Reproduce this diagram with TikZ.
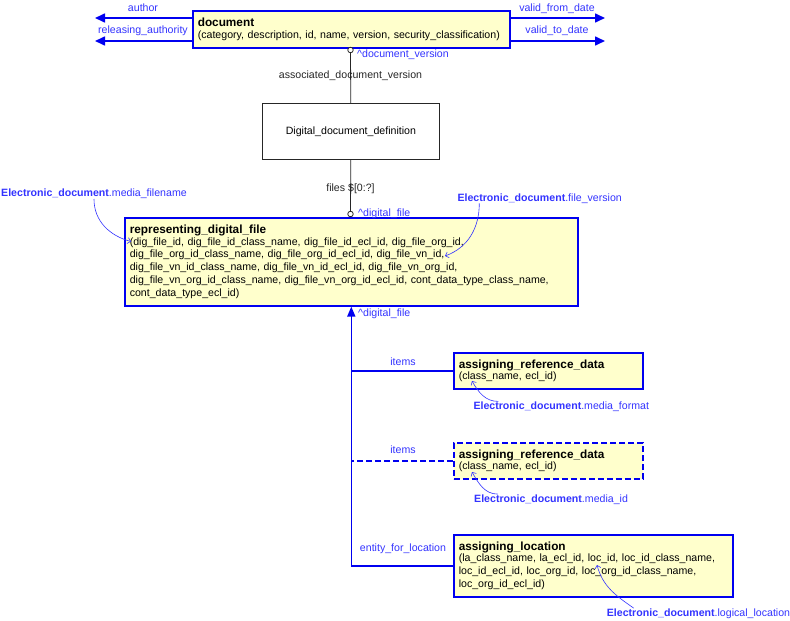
\documentclass[tikz,border=0pt]{standalone}
\usepackage{fontspec}
\setmainfont{Liberation Sans}
\usetikzlibrary{arrows.meta,positioning}
\definecolor{relblue}{RGB}{0,0,240}
\definecolor{lblblue}{RGB}{51,51,255}
\definecolor{entfill}{RGB}{255,255,204}
\newcommand{\edoc}[1]{\textbf{Electronic\_document}.#1}
\newcommand{\enttitle}[1]{{\fontsize{11.8}{12.9}\selectfont\textbf{#1}}}

\begin{document}
\begin{tikzpicture}[x=1pt,y=1pt,font=\fontsize{10.6}{12.9}\selectfont,
	ent/.style 2 args={draw=relblue,line width=1.6pt,fill=entfill,anchor=north west,align=left,
		inner xsep=5pt,inner ysep=0pt,text width=#1,minimum height=#2},
	plain/.style={draw=black!85,line width=0.8pt,fill=white,anchor=north west,inner sep=0pt,
		minimum width=177pt,minimum height=56pt},
	rel/.style={draw=relblue,line width=1.6pt},
	relarrow/.style={rel,-{Triangle[length=10pt,width=9pt]}},
	link/.style={draw=black!85,line width=0.8pt},
	ring/.style={circle,draw=black!85,line width=0.8pt,fill=white,inner sep=0pt,minimum size=5.5pt},
	lbl/.style={text=lblblue,anchor=base,inner sep=0pt},
	txt/.style={text=black!85,anchor=base,inner sep=0pt},
	note/.style={draw=lblblue,line width=0.6pt,-{Straight Barb[length=3pt,width=6pt]}}]
	\useasboundingbox (0,0) rectangle (790,-621);

	\node[ent={307pt}{37pt}] (doc) at (192,-10)
		{\enttitle{document}\\[-1.1pt](category, description, id, name, version, security\_classification)};
	\node[plain] (ddd) at (262,-103) {Digital\_document\_definition};
	\node[ent={443pt}{88pt}] (rdf) at (124,-217)
		{\enttitle{representing\_digital\_file}\\[-1.1pt]
		(dig\_file\_id, dig\_file\_id\_class\_name, dig\_file\_id\_ecl\_id, dig\_file\_org\_id,\\
		dig\_file\_org\_id\_class\_name, dig\_file\_org\_id\_ecl\_id, dig\_file\_vn\_id,\\
		dig\_file\_vn\_id\_class\_name, dig\_file\_vn\_id\_ecl\_id, dig\_file\_vn\_org\_id,\\
		dig\_file\_vn\_org\_id\_class\_name, dig\_file\_vn\_org\_id\_ecl\_id, cont\_data\_type\_class\_name,\\
		cont\_data\_type\_ecl\_id)};
	\node[ent={179pt}{36pt}] (ard1) at (453,-352)
		{\enttitle{assigning\_reference\_data}\\[-1.1pt](class\_name, ecl\_id)};
	\node[ent={179pt}{36pt},dash pattern=on 6pt off 3pt] (ard2) at (453,-442)
		{\enttitle{assigning\_reference\_data}\\[-1.1pt](class\_name, ecl\_id)};
	\node[ent={269pt}{62pt}] (al) at (453,-534)
		{\enttitle{assigning\_location}\\[-1.1pt]
		(la\_class\_name, la\_ecl\_id, loc\_id, loc\_id\_class\_name,\\
		loc\_id\_ecl\_id, loc\_org\_id, loc\_org\_id\_class\_name,\\
		loc\_org\_id\_ecl\_id)};

	\coordinate (aut) at (95,-18);
	\coordinate (rla) at (95,-41);
	\coordinate (vfd) at (605,-18);
	\coordinate (vtd) at (605,-41);
	\draw[relarrow] (doc.west |- aut) -- (aut);
	\draw[relarrow] (doc.west |- rla) -- (rla);
	\draw[relarrow] (doc.east |- vfd) -- (vfd);
	\draw[relarrow] (doc.east |- vtd) -- (vtd);
	\node[lbl] (aut-l) at (143,-12) {author};
	\node[lbl] (rla-l) at (143,-34) {releasing\_authority};
	\node[lbl] (vfd-l) at (557,-11) {valid\_from\_date};
	\node[lbl] (vtd-l) at (557,-34) {valid\_to\_date};

	\node[ring] (dv) at (350.5,-50) {};
	\node[ring] (df) at (350.5,-214) {};
	\draw[link] (dv) -- (ddd);
	\draw[link] (ddd) -- (df);
	\node[lbl,anchor=base west] (dv-l) at (357,-57) {\textasciicircum document\_version};
	\node[txt] (adv-l) at (350.5,-78) {associated\_document\_version};
	\node[txt] (files-l) at (350.5,-191) {files \$[0:?]};
	\node[lbl,anchor=base west] (df-l) at (358,-216) {\textasciicircum digital\_file};

	\draw[rel] (ard1.west) -- (ard1.west -| rdf.south);
	\draw[rel,dash pattern=on 6pt off 3pt] (ard2.west) -- (ard2.west -| rdf.south);
	\draw[rel,-{Triangle[length=10pt,width=8pt]}] (al.west) -| (rdf.south);
	\node[lbl,anchor=base west] (df2-l) at (358,-316) {\textasciicircum digital\_file};
	\node[lbl] (it1-l) at (403,-365) {items};
	\node[lbl] (it2-l) at (403,-453.3) {items};
	\node[lbl] (efl-l) at (403,-551) {entity\_for\_location};

	\node[lbl,anchor=base west] (mfn) at (1,-196.7) {\edoc{media\_filename}};
	\node[lbl,anchor=base west] (fv) at (457.3,-201) {\edoc{file\_version}};
	\node[lbl,anchor=base west] (mf) at (473.3,-409.3) {\edoc{media\_format}};
	\node[lbl,anchor=base west] (mi) at (474,-502) {\edoc{media\_id}};
	\node[lbl,anchor=base west] (ll) at (606.7,-616) {\edoc{logical\_location}};
	\coordinate (mfn-t) at (131,-241.5);
	\coordinate (fv-t) at (445,-256);
	\coordinate (mf-t) at (472,-381);
	\coordinate (mi-t) at (472,-472);
	\coordinate (ll-t) at (597,-565);
	\draw[note] (mfn.south) to[out=-90,in=165] (mfn-t);
	\draw[note] ([xshift=22pt]fv.south west) to[out=-90,in=20] (fv-t);
	\draw[note] ([xshift=25pt]mf.north west) to[out=180,in=-60] (mf-t);
	\draw[note] ([xshift=24pt]mi.north west) to[out=180,in=-60] (mi-t);
	\draw[note] ([xshift=27pt]ll.north west) to[out=145,in=-75] (ll-t);
\end{tikzpicture}
\end{document}
